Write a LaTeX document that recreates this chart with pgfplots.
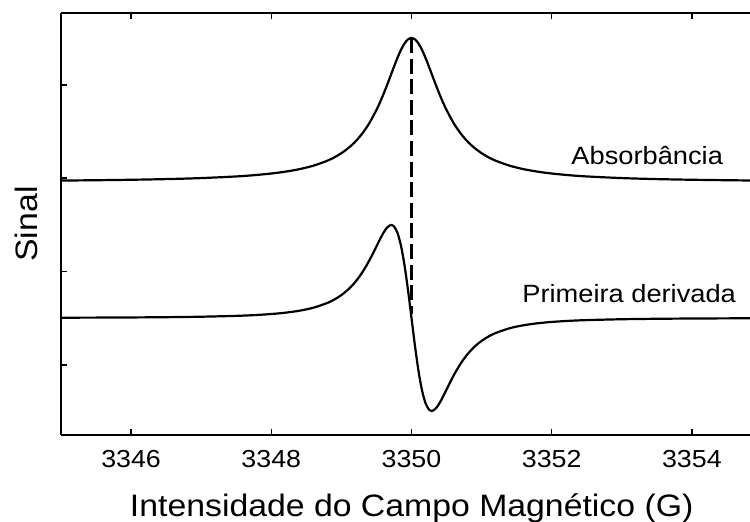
\documentclass[border=0pt]{standalone}
\usepackage{fontspec}
\setmainfont{Liberation Sans}[FakeStretch=1.09]
\usepackage{pgfplots}
\pgfplotsset{compat=1.18}
\begin{document}
\begin{tikzpicture}
\begin{axis}[
  scale only axis, width=344.5pt, height=211pt,
  xmin=3345, xmax=3354.829, ymin=0, ymax=422,
  axis x line=box, axis y line=left,
  axis line style={-, line width=1pt, black},
  tick align=inside,
  xtick={3346,3348,3350,3352,3354},
  ytick={70,163.5,257,350}, yticklabels={},
  major tick length=3pt,
  tick style={line width=0.7pt, black},
  /pgf/number format/assume math mode=true,
  /pgf/number format/set thousands separator={},
  xticklabel style={font=\fontsize{12.3}{14}\selectfont, yshift=-4.3pt},
  xlabel={Intensidade do Campo Magnético (G)},
  ylabel={Sinal},
  xlabel style={font=\fontsize{15.5}{18}\selectfont, at={(axis description cs:0.509,-0.1213)}, anchor=north},
  ylabel style={font=\fontsize{15.5}{18}\selectfont, at={(axis description cs:-0.0227,0.5)}, anchor=south},
  clip=false,
]
% Absorption (Lorentzian line)
\addplot[black, line width=1.1pt, smooth] coordinates {
(3345,254.43)(3345.5,254.76)(3346,255.22)(3346.5,255.88)(3347,256.89)(3347.5,258.54)(3347.75,259.78)(3348,261.47)(3348.2,263.32)(3348.4,265.81)(3348.6,269.29)(3348.8,274.30)(3348.9,277.66)(3349,281.8)(3349.1,286.96)(3349.2,293.45)(3349.3,301.65)(3349.4,312.02)(3349.5,325.0)(3349.55,332.56)(3349.6,340.80)(3349.65,349.64)(3349.7,358.88)(3349.75,368.2)(3349.8,377.14)(3349.85,385.11)(3349.9,391.46)(3349.95,395.57)(3350,397)
(3350.05,395.57)(3350.1,391.46)(3350.15,385.11)(3350.2,377.14)(3350.25,368.2)(3350.3,358.88)(3350.35,349.64)(3350.4,340.80)(3350.45,332.56)(3350.5,325.0)(3350.6,312.02)(3350.7,301.65)(3350.8,293.45)(3350.9,286.96)(3351,281.8)(3351.1,277.66)(3351.2,274.30)(3351.4,269.29)(3351.6,265.81)(3351.8,263.32)(3352,261.47)(3352.25,259.78)(3352.5,258.54)(3353,256.89)(3353.5,255.88)(3354,255.22)(3354.5,254.76)(3354.829,254.5)
};
% First derivative
\addplot[black, line width=1.1pt, smooth] coordinates {
(3345,117.28)(3345.5,117.38)(3346,117.54)(3346.5,117.80)(3347,118.26)(3347.5,119.12)(3347.75,119.85)(3348,120.96)(3348.2,122.29)(3348.4,124.25)(3348.6,127.26)(3348.8,132.04)(3348.9,135.47)(3349,139.90)(3349.1,145.67)(3349.2,153.14)(3349.3,162.75)(3349.4,174.71)(3349.5,188.58)(3349.55,195.65)(3349.6,202.16)(3349.65,207.27)(3349.7,209.87)(3349.71,209.98)(3349.75,208.62)(3349.8,202.11)(3349.85,189.29)(3349.9,169.94)(3349.95,145.07)(3350,117)
(3350.05,88.93)(3350.1,64.06)(3350.15,44.71)(3350.2,31.89)(3350.25,25.38)(3350.29,24.02)(3350.3,24.13)(3350.35,26.73)(3350.4,31.84)(3350.45,38.35)(3350.5,45.42)(3350.6,59.29)(3350.7,71.25)(3350.8,80.86)(3350.9,88.33)(3351,94.10)(3351.1,98.53)(3351.2,101.96)(3351.4,106.74)(3351.6,109.75)(3351.8,111.71)(3352,113.04)(3352.25,114.15)(3352.5,114.88)(3353,115.74)(3353.5,116.20)(3354,116.46)(3354.5,116.62)(3354.829,116.7)
};
% dashed marker line at the resonance field
\addplot[black, line width=1.1pt, dash pattern=on 7.5pt off 2.8pt] coordinates {(3350,397)(3350,121)};
\node[anchor=base east, font=\fontsize{12.5}{15}\selectfont] at (axis cs:3354.544,270) {Absorbância};
\node[anchor=base east, font=\fontsize{12.5}{15}\selectfont] at (axis cs:3354.729,132) {Primeira derivada};
\coordinate (sw) at (rel axis cs:0,0);
\coordinate (ne) at (rel axis cs:1,1);
\end{axis}
\pgfresetboundingbox
\useasboundingbox ([xshift=-30.5pt,yshift=-43.5pt]sw) rectangle ([yshift=6.5pt]ne);
\end{tikzpicture}
\end{document}
